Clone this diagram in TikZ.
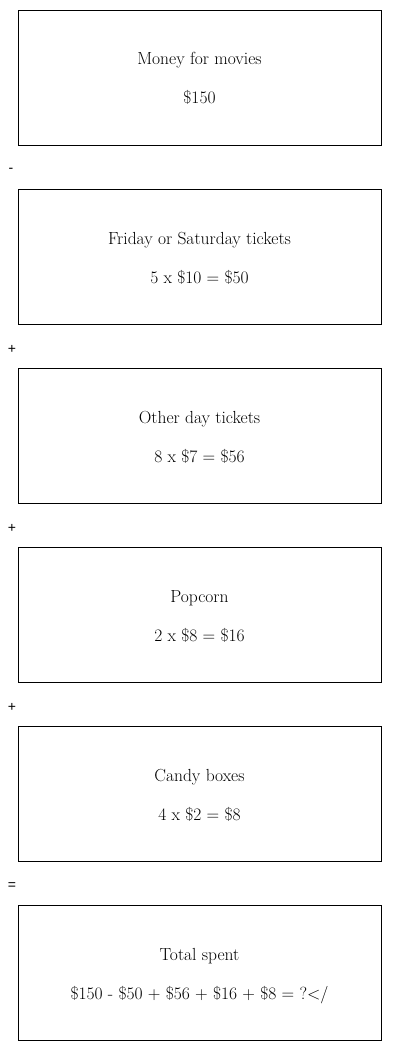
\documentclass[tikz,border=0pt]{standalone}
\usepackage{fontspec}
\newfontfamily\opfont{Liberation Sans}
\begin{document}
\begin{tikzpicture}[x=1pt,y=-1pt,
  box/.style={draw=black,line width=0.9pt,minimum width=363pt,minimum height=135pt,inner sep=0pt},
  txt/.style={font=\fontsize{17.5}{20}\selectfont,inner sep=0pt,anchor=base},
  op/.style={font=\opfont\fontsize{14}{16}\selectfont,inner sep=0pt}]
\useasboundingbox (0,0) rectangle (400,1051);
\foreach \i/\t/\v in {0/{Money for movies}/{\$150},
  1/{Friday or Saturday tickets}/{5 x \$10 = \$50},
  2/{Other day tickets}/{8 x \$7 = \$56},
  3/{Popcorn}/{2 x \$8 = \$16},
  4/{Candy boxes}/{4 x \$2 = \$8},
  5/{Total spent}/{\$150 - \$50 + \$56 + \$16 + \$8 = ?<\slash}}{
  \node[box] (b\i) at (199.5,{77.5+179*\i}) {};
  \node[txt] (t\i) at (199.5,{65+179*\i}) {\t};
  \node[txt] (v\i) at (199.5,{104+179*\i}) {\v};
}
\node[op] (o1) at (11,170) {-};
\node[op] (o2) at (12,349) {+};
\node[op] (o3) at (12,528) {+};
\node[op] (o4) at (12,707) {+};
\node[op] (o5) at (12,886) {=};
\end{tikzpicture}
\end{document}
